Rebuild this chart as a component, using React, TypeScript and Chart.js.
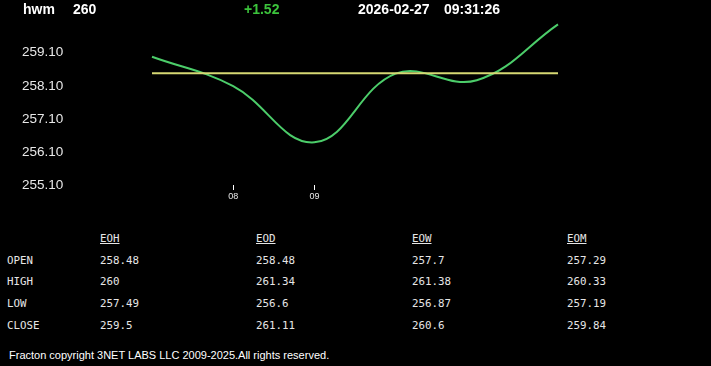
import React, { useEffect, useRef } from "react";
import { Chart, registerables } from "chart.js";

Chart.register(...registerables);

const xLabels = ["", "08", "09", "", "", ""];
const priceSeries = [258.98, 258.09, 256.39, 258.47, 258.27, 259.96];
const openSeries = [258.48, 258.48, 258.48, 258.48, 258.48, 258.48];
const yTicks = [255.1, 256.1, 257.1, 258.1, 259.1];
const yMin = 255.1;
const yMax = 260.0;

const headerSymbol = "hwm";
const headerPrice = "260";
const headerChange = "+1.52";
const headerDate = "2026-02-27";
const headerTime = "09:31:26";

const tableColumns = ["EOH", "EOD", "EOW", "EOM"];
const tableRows = ["OPEN", "HIGH", "LOW", "CLOSE"];
const eohValues = ["258.48", "260", "257.49", "259.5"];
const eodValues = ["258.48", "261.34", "256.6", "261.11"];
const eowValues = ["257.7", "261.38", "256.87", "260.6"];
const eomValues = ["257.29", "260.33", "257.19", "259.84"];
const footerText = "Fracton copyright 3NET LABS LLC 2009-2025.All rights reserved.";

const colX = [100, 256, 412, 567];
const rowY = [260.5, 282, 304, 325.5];

export default function App() {
  const ref = useRef<HTMLCanvasElement | null>(null);

  useEffect(() => {
    document.body.style.margin = "0";
    document.body.style.background = "#000";
    if (!ref.current) return;
    const chart = new Chart(ref.current, {
      type: "line",
      data: {
        labels: xLabels,
        datasets: [
          {
            data: openSeries,
            borderColor: "#d6d873",
            borderWidth: 2,
            pointRadius: 0,
            tension: 0,
            order: 0,
          },
          {
            data: priceSeries,
            borderColor: "#4ccd6a",
            borderWidth: 2,
            pointRadius: 0,
            tension: 0.4,
            order: 1,
          },
        ],
      },
      options: {
        animation: false,
        responsive: false,
        maintainAspectRatio: false,
        layout: { padding: { left: 22, right: 153, top: 22, bottom: 0 } },
        plugins: { legend: { display: false }, tooltip: { enabled: false } },
        scales: {
          x: {
            type: "category",
            offset: false,
            border: { display: false },
            grid: {
              drawOnChartArea: false,
              drawTicks: true,
              tickLength: 5,
              tickWidth: 1,
              color: (ctx: any) =>
                ctx.tick && ctx.tick.label ? "#ffffff" : "rgba(0,0,0,0)",
            },
            ticks: {
              autoSkip: false,
              maxRotation: 0,
              padding: 1,
              color: "#e8e8e8",
              font: { family: "'Liberation Sans', Arial, sans-serif", size: 9 },
            },
            afterFit: (scale: any) => {
              scale.height = 26;
            },
          },
          y: {
            min: yMin,
            max: yMax,
            border: { display: false },
            grid: { display: false },
            afterBuildTicks: (scale: any) => {
              scale.ticks = yTicks.map((v) => ({ value: v }));
            },
            afterFit: (scale: any) => {
              scale.width = 130;
            },
            ticks: {
              crossAlign: "far",
              color: "#e8e8e8",
              font: { family: "'Liberation Sans', Arial, sans-serif", size: 13.5 },
              callback: (v: any) => Number(v).toFixed(2),
            },
          },
        },
      },
    });
    return () => chart.destroy();
  }, []);

  const sans = "'Liberation Sans', Arial, sans-serif";
  const mono = "'DejaVu Sans Mono', 'Liberation Mono', monospace";
  const headStyle = (left: number, color: string): React.CSSProperties => ({
    position: "absolute",
    left,
    top: 2,
    lineHeight: "14px",
    fontFamily: sans,
    fontWeight: "bold",
    fontSize: 14,
    color,
    whiteSpace: "nowrap",
  });
  const cell = (left: number, top: number): React.CSSProperties => ({
    position: "absolute",
    left,
    top: top - 7,
    lineHeight: "14px",
    fontFamily: mono,
    fontSize: 10.8,
    color: "#e6e6e6",
    whiteSpace: "nowrap",
  });
  const colValues = [eohValues, eodValues, eowValues, eomValues];

  return (
    <div
      style={{
        position: "fixed",
        left: 0,
        top: 0,
        width: 711,
        height: 366,
        background: "#000",
        overflow: "hidden",
      }}
    >
      <canvas
        ref={ref}
        width={711}
        height={210}
        style={{ position: "absolute", left: 0, top: 1, width: 711, height: 210 }}
      />
      <div style={headStyle(23, "#ffffff")}>{headerSymbol}</div>
      <div style={headStyle(73, "#ffffff")}>{headerPrice}</div>
      <div style={headStyle(244, "#3cc43c")}>{headerChange}</div>
      <div style={headStyle(358, "#ffffff")}>{headerDate}</div>
      <div style={headStyle(444, "#ffffff")}>{headerTime}</div>
      {tableColumns.map((c, i) => (
        <div key={c} style={{ ...cell(colX[i], 239), textDecoration: "underline" }}>
          {c}
        </div>
      ))}
      {tableRows.map((r, ri) => (
        <React.Fragment key={r}>
          <div style={cell(7, rowY[ri])}>{r}</div>
          {colValues.map((vals, ci) => (
            <div key={ci} style={cell(colX[ci], rowY[ri])}>
              {vals[ri]}
            </div>
          ))}
        </React.Fragment>
      ))}
      <div
        style={{
          position: "absolute",
          left: 9,
          top: 348,
          lineHeight: "14px",
          fontFamily: sans,
          fontSize: 11,
          color: "#ffffff",
          whiteSpace: "nowrap",
        }}
      >
        {footerText}
      </div>
    </div>
  );
}
